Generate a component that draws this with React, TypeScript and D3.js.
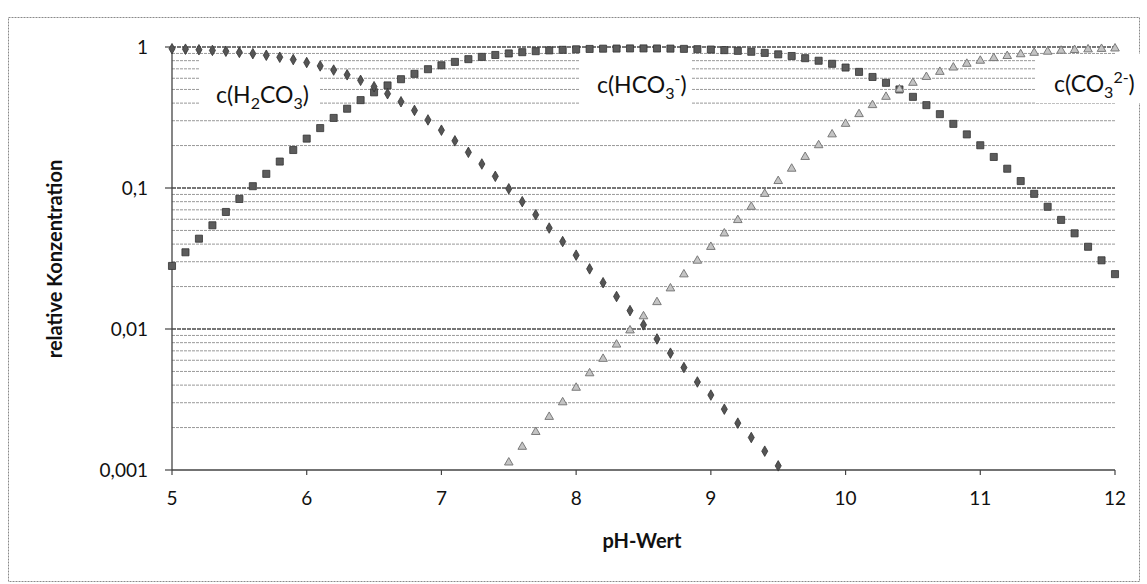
import React from 'react';
import * as d3 from 'd3';

// pH grid (0.1 steps) and relative concentrations
const phValues = [
  5.0, 5.1, 5.2, 5.3, 5.4, 5.5, 5.6, 5.7, 5.8, 5.9,
  6.0, 6.1, 6.2, 6.3, 6.4, 6.5, 6.6, 6.7, 6.8, 6.9,
  7.0, 7.1, 7.2, 7.3, 7.4, 7.5, 7.6, 7.7, 7.8, 7.9,
  8.0, 8.1, 8.2, 8.3, 8.4, 8.5, 8.6, 8.7, 8.8, 8.9,
  9.0, 9.1, 9.2, 9.3, 9.4, 9.5, 9.6, 9.7, 9.8, 9.9,
  10.0, 10.1, 10.2, 10.3, 10.4, 10.5, 10.6, 10.7, 10.8, 10.9,
  11.0, 11.1, 11.2, 11.3, 11.4, 11.5, 11.6, 11.7, 11.8, 11.9,
  12.0
];

// c(H2CO3), pH 5.0 .. 9.5
const h2co3 = [
  0.972, 0.965, 0.956, 0.946, 0.933, 0.916, 0.897, 0.874, 0.846, 0.814,
  0.776, 0.734, 0.686, 0.635, 0.580, 0.523, 0.466, 0.409, 0.355, 0.304,
  0.257, 0.216, 0.179, 0.148, 0.121, 0.0987, 0.0800, 0.0646, 0.0520, 0.0417,
  0.0334, 0.0267, 0.0213, 0.0170, 0.0135, 0.0107, 0.0085, 0.00674, 0.00533, 0.00421,
  0.0034, 0.0027, 0.00215, 0.0017, 0.00136, 0.00107
];

// c(HCO3-), pH 5.0 .. 12.0
const hco3 = [
  0.0280, 0.0350, 0.0437, 0.0544, 0.0676, 0.0836, 0.103, 0.126, 0.154, 0.186,
  0.224, 0.266, 0.314, 0.365, 0.420, 0.477, 0.534, 0.591, 0.645, 0.696,
  0.742, 0.784, 0.820, 0.851, 0.878, 0.900, 0.919, 0.934, 0.946, 0.955,
  0.963, 0.969, 0.973, 0.975, 0.977, 0.977, 0.976, 0.974, 0.970, 0.965,
  0.959, 0.950, 0.939, 0.925, 0.908, 0.887, 0.863, 0.833, 0.799, 0.760,
  0.715, 0.666, 0.613, 0.557, 0.500, 0.443, 0.387, 0.334, 0.285, 0.240,
  0.201, 0.166, 0.137, 0.112, 0.0909, 0.0736, 0.0594, 0.0477, 0.0383, 0.0307,
  0.0245
];

// c(CO3 2-), pH 7.5 .. 12.0
const co3 = [
  0.00113, 0.00146, 0.00186, 0.00238, 0.00302,
  0.00383, 0.00485, 0.00614, 0.00775, 0.00977, 0.0123, 0.0155, 0.0194, 0.0244, 0.0305,
  0.0382, 0.0476, 0.0592, 0.0735, 0.0908, 0.112, 0.137, 0.166, 0.201, 0.240,
  0.285, 0.334, 0.387, 0.443, 0.500, 0.557, 0.613, 0.666, 0.715, 0.760,
  0.799, 0.834, 0.863, 0.888, 0.909, 0.926, 0.941, 0.952, 0.962, 0.969,
  0.976
];

const xTicks = [5, 6, 7, 8, 9, 10, 11, 12];
const yTicks = [1, 0.1, 0.01, 0.001];
const yTickLabels = ['1', '0,1', '0,01', '0,001'];

const W = 1147;
const H = 584;
const plot = { left: 172, right: 1115, top: 47, bottom: 470 };
const font = 'Lato, "Open Sans", sans-serif';

export default function App() {
  const x = d3.scaleLinear().domain([5, 12]).range([plot.left, plot.right]);
  const y = d3.scaleLog().domain([0.001, 1]).range([plot.bottom, plot.top]);

  // minor gridlines 2..9 of every decade
  const minor: number[] = [];
  [0.001, 0.01, 0.1].forEach(d => {
    for (let k = 2; k <= 9; k++) minor.push(d * k);
  });

  const series1 = h2co3.map((v, i) => [phValues[i], v]);
  const series2 = hco3.map((v, i) => [phValues[i], v]);
  const series3 = co3.map((v, i) => [phValues[i + 25], v]);

  const diamond = d3.symbol().type(d3.symbolDiamond).size(32)();
  const square = d3.symbol().type(d3.symbolSquare).size(50)();
  const triangle = d3.symbol().type(d3.symbolTriangle).size(32)();

  return (
    <div style={{ position: 'absolute', left: 0, top: 0 }}>
      <svg width={W} height={H} style={{ display: 'block', background: '#fff' }}>
        <rect x={8.5} y={17.5} width={1131} height={564} fill="#fff"
          stroke="#8a8a8a" strokeWidth={1} strokeDasharray="2 1" />

        {/* gridlines */}
        {minor.map(v => (
          <line key={'m' + v} x1={plot.left} x2={plot.right} y1={y(v)} y2={y(v)}
            stroke="#999" strokeWidth={1} strokeDasharray="3 1" />
        ))}
        {[1, 0.1, 0.01].map(v => (
          <line key={'M' + v} x1={plot.left} x2={plot.right} y1={y(v)} y2={y(v)}
            stroke="#4a4a4a" strokeWidth={1.4} strokeDasharray="4 1" />
        ))}

        {/* label backgrounds */}
        <rect x={200} y={56} width={120} height={54} fill="#fff" />
        <rect x={580} y={52} width={112} height={52} fill="#fff" />
        <rect x={1035} y={54} width={112} height={49} fill="#fff" />

        <g fontFamily={font} fontSize={23} fill="#111">
          <text x={216} y={103}>
            c(H<tspan fontSize={16} dy={6}>2</tspan><tspan dy={-6}>CO</tspan>
            <tspan fontSize={16} dy={6}>3</tspan><tspan dy={-6}>)</tspan>
          </text>
          <text x={597} y={93}>
            c(HCO<tspan fontSize={16} dy={6}>3</tspan>
            <tspan fontSize={16} dy={-15}>-</tspan><tspan dy={9}>)</tspan>
          </text>
          <text x={1054} y={92}>
            c(CO<tspan fontSize={16} dy={6}>3</tspan>
            <tspan fontSize={16} dy={-15}>2-</tspan><tspan dy={9}>)</tspan>
          </text>
        </g>

        {/* axes */}
        <line x1={plot.left} x2={plot.left} y1={plot.top} y2={plot.bottom}
          stroke="#444" strokeWidth={1.3} />
        <line x1={plot.left} x2={plot.right} y1={plot.bottom} y2={plot.bottom}
          stroke="#444" strokeWidth={1.3} />
        {yTicks.map(v => (
          <line key={'yt' + v} x1={plot.left - 7} x2={plot.left} y1={y(v)} y2={y(v)}
            stroke="#444" strokeWidth={1.2} />
        ))}
        {xTicks.map(v => (
          <line key={'xt' + v} x1={x(v)} x2={x(v)} y1={plot.bottom} y2={plot.bottom + 5}
            stroke="#444" strokeWidth={1.2} />
        ))}

        <g fontFamily={font} fontSize={19} fill="#111">
          {yTicks.map((v, i) => (
            <text key={'yl' + v} x={plot.left - 24} y={y(v)} dy="0.35em" textAnchor="end">
              {yTickLabels[i]}
            </text>
          ))}
          {xTicks.map(v => (
            <text key={'xl' + v} x={x(v)} y={plot.bottom + 35} textAnchor="middle">{v}</text>
          ))}
        </g>

        <text x={642} y={548} fontFamily={font} fontSize={20} fontWeight="bold"
          textAnchor="middle" fill="#111">pH-Wert</text>
        <text transform={`translate(62,259) rotate(-90)`} fontFamily={font} fontSize={20}
          fontWeight="bold" textAnchor="middle" fill="#111">relative Konzentration</text>

        {/* markers */}
        {series2.map(([p, v]) => (
          <path key={'s' + p} d={square} transform={`translate(${x(p)},${y(v)})`}
            fill="#5c5c5c" stroke="#333" strokeWidth={0.8} />
        ))}
        {series3.map(([p, v]) => (
          <path key={'t' + p} d={triangle} transform={`translate(${x(p)},${y(v)})`}
            fill="#c4c4c4" stroke="#7a7a7a" strokeWidth={1} />
        ))}
        {series1.map(([p, v]) => (
          <path key={'d' + p} d={diamond} transform={`translate(${x(p)},${y(v)})`}
            fill="#555" stroke="#333" strokeWidth={0.8} />
        ))}
      </svg>
    </div>
  );
}
